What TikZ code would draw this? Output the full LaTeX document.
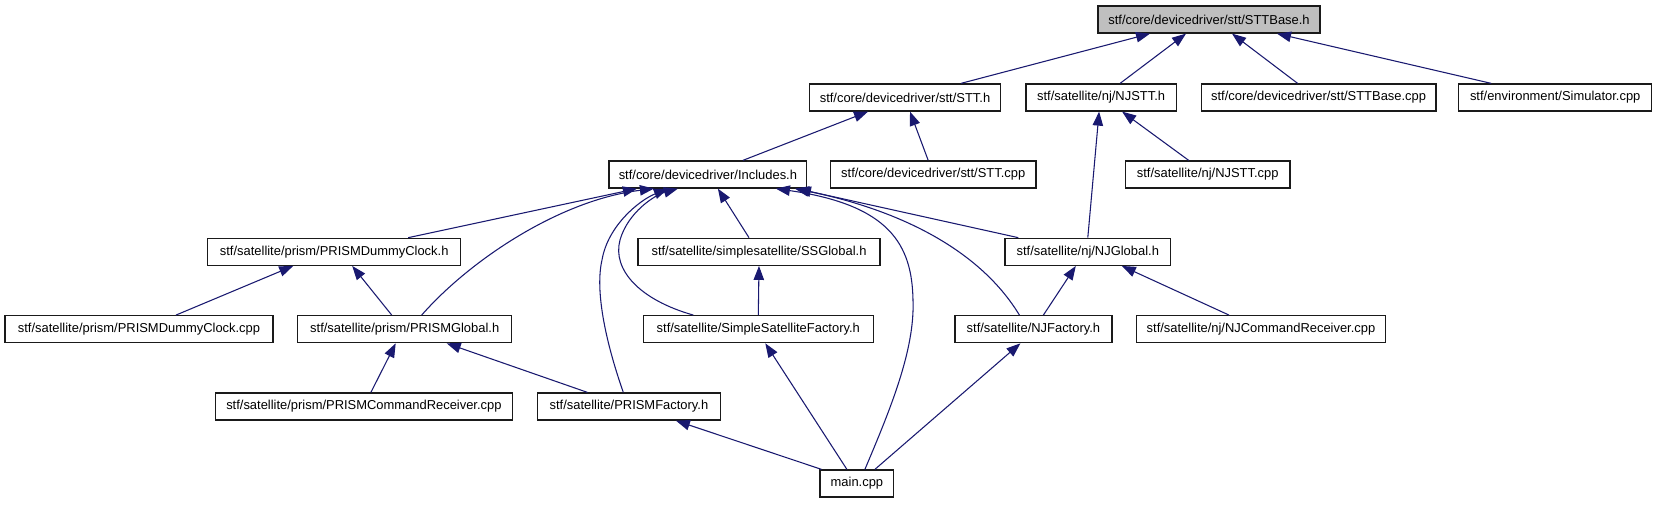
\documentclass[tikz,border=0pt]{standalone}
\usepackage{fontspec}
\setmainfont{Liberation Sans}
\usetikzlibrary{arrows.meta,calc}
\definecolor{navy}{HTML}{191970}
\definecolor{rootgray}{HTML}{BFBFBF}
\definecolor{boxline}{HTML}{1A1A1A}
\begin{document}
\begin{tikzpicture}[x=0.75pt,y=-0.75pt,
  box/.style={draw=boxline,line width=1pt,fill=white,minimum height=20.2pt,inner sep=0pt,font=\fontsize{9.7pt}{11pt}\selectfont},
  bw/.style={minimum width=(#1-1.4)*0.75pt},
  dep/.style={draw=navy,line width=0.8pt,-{Triangle[length=10.5pt,width=7.8pt]}}]
\fill[white] (0,0) rectangle (1657,504);
\useasboundingbox (0,0) rectangle (1657,504);
% row 1
\node[box,bw=223.6,fill=rootgray] (stb) at (1209,19.5) {stf/core/devicedriver/stt/STTBase.h};
% row 2
\node[box,bw=192] (stth) at (905,97.5) {stf/core/devicedriver/stt/STT.h};
\node[box,bw=151.6] (njstth) at (1101.1,97.5) {stf/satellite/nj/NJSTT.h};
\node[box,bw=236] (stbcpp) at (1318.6,97.5) {stf/core/devicedriver/stt/STTBase.cpp};
\node[box,bw=194.4] (sim) at (1555.2,97.5) {stf/environment/Simulator.cpp};
% row 3
\node[box,bw=199.2] (inc) at (707.9,174.5) {stf/core/devicedriver/Includes.h};
\node[box,bw=207] (sttcpp) at (933.2,174.5) {stf/core/devicedriver/stt/STT.cpp};
\node[box,bw=166.1] (njsttcpp) at (1207.7,174.5) {stf/satellite/nj/NJSTT.cpp};
% row 4
\node[box,bw=254.2] (pdch) at (334.2,251.8) {stf/satellite/prism/PRISMDummyClock.h};
\node[box,bw=243.4] (ssg) at (759,251.8) {stf/satellite/simplesatellite/SSGlobal.h};
\node[box,bw=166.7] (njg) at (1087.8,251.8) {stf/satellite/nj/NJGlobal.h};
% row 5
\node[box,bw=269.5] (pdccpp) at (139,329.2) {stf/satellite/prism/PRISMDummyClock.cpp};
\node[box,bw=215.3] (pg) at (404.7,329.2) {stf/satellite/prism/PRISMGlobal.h};
\node[box,bw=231.3] (ssf) at (758.3,329.2) {stf/satellite/SimpleSatelliteFactory.h};
\node[box,bw=158.5] (njf) at (1033.4,329.2) {stf/satellite/NJFactory.h};
\node[box,bw=250.9] (njcr) at (1261,329.2) {stf/satellite/nj/NJCommandReceiver.cpp};
% row 6
\node[box,bw=298.1] (pcr) at (363.9,406.5) {stf/satellite/prism/PRISMCommandReceiver.cpp};
\node[box,bw=184.8] (pf) at (628.9,406.5) {stf/satellite/PRISMFactory.h};
% row 7
\node[box,bw=74.9] (main) at (856.9,483.5) {main.cpp};
% edges
\draw[dep] ($(stth.north)+(56,0)$) -- ($(stb.south)+(-59,0)$);
\draw[dep] ($(njstth.north)+(19,0)$) -- ($(stb.south)+(-23,0)$);
\draw[dep] ($(stbcpp.north)+(-21,0)$) -- ($(stb.south)+(23,0)$);
\draw[dep] ($(sim.north)+(-64,0)$) -- ($(stb.south)+(68,0)$);
\draw[dep] ($(inc.north)+(35,0)$) -- ($(stth.south)+(-37,0)$);
\draw[dep] ($(sttcpp.north)+(-5,0)$) -- ($(stth.south)+(5,0)$);
\draw[dep] (njg.north) -- ($(njstth.south)+(-2,0)$);
\draw[dep] ($(njsttcpp.north)+(-19,0)$) -- ($(njstth.south)+(21,0)$);
\draw[dep] ($(pdch.north)+(74,0)$) -- ($(inc.south)+(-71,0)$);
\draw[dep] ($(pg.north)+(17,0)$) .. controls (470,260) and (560,200) .. ($(inc.south)+(-54,0)$);
\draw[dep] ($(pf.north)+(-5.6,0)$) .. controls (605,340) and (595,290) .. (602,260) .. controls (608,225) and (640,200) .. ($(inc.south)+(-40,0)$);
\draw[dep] ($(ssf.north)+(-65,0)$) .. controls (640,300) and (612,270) .. (620,240) .. controls (628,212) and (655,195) .. ($(inc.south)+(-30,0)$);
\draw[dep] ($(ssg.north)+(-10,0)$) -- ($(inc.south)+(10,0)$);
\draw[dep] ($(main.north)+(8,0)$) .. controls (890,410) and (915,350) .. (913,300) .. controls (912,245) and (890,205) .. ($(inc.south)+(68,0)$);
\draw[dep] ($(njf.north)+(-14,0)$) .. controls (980,250) and (900,210) .. ($(inc.south)+(87,0)$);
\draw[dep] ($(njg.north)+(-69.5,0)$) -- ($(inc.south)+(89,0)$);
\draw[dep] ($(pdccpp.north)+(37,0)$) -- ($(pdch.south)+(-41,0)$);
\draw[dep] ($(pg.north)+(-13,0)$) -- ($(pdch.south)+(18,0)$);
\draw[dep] (ssf.north) -- (ssg.south);
\draw[dep] ($(njf.north)+(10,0)$) -- ($(njg.south)+(-12,0)$);
\draw[dep] ($(njcr.north)+(-32,0)$) -- ($(njg.south)+(34,0)$);
\draw[dep] ($(pcr.north)+(7,0)$) -- ($(pg.south)+(-9,0)$);
\draw[dep] ($(pf.north)+(-41.5,0)$) -- ($(pg.south)+(42,0)$);
\draw[dep] ($(main.north)+(-10,0)$) -- ($(ssf.south)+(7,0)$);
\draw[dep] ($(main.north)+(18,0)$) -- ($(njf.south)+(-13,0)$);
\draw[dep] ($(main.north west)+(2,0)$) -- ($(pf.south)+(47,0)$);
\end{tikzpicture}
\end{document}
